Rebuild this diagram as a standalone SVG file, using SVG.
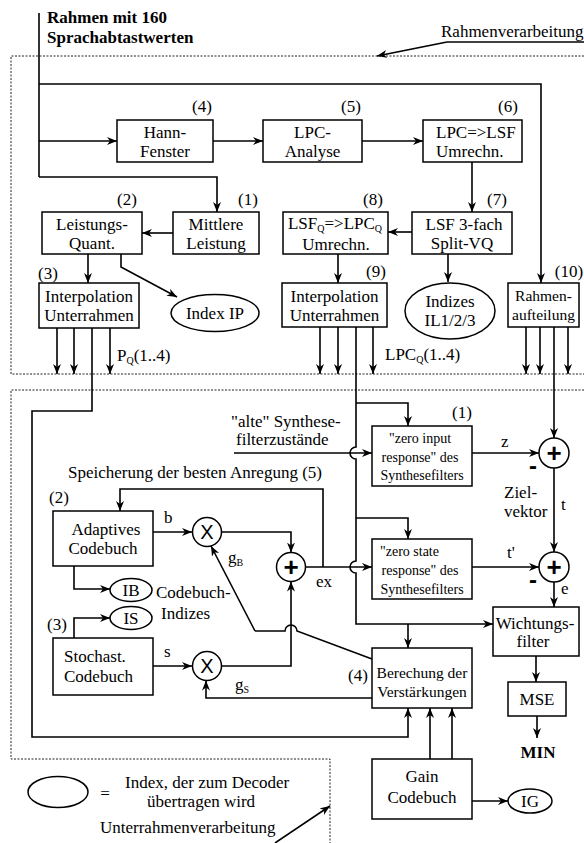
<svg xmlns="http://www.w3.org/2000/svg" width="584" height="843" viewBox="0 0 584 843">
<style>
text{font-family:"Liberation Serif","Times New Roman",serif;font-size:17px;fill:#000}
.m{text-anchor:middle}
.b{font-weight:bold;font-size:17px}
.s14{font-size:14px}
.s155{font-size:15.5px}
.sub{font-size:10px}
.box{fill:#fff;stroke:#000;stroke-width:1.5}
.ell{fill:#fff;stroke:#000;stroke-width:1.5}
.ln{fill:none;stroke:#000;stroke-width:1.6}
.ar{fill:none;stroke:#000;stroke-width:1.6;marker-end:url(#ah)}
.dot{fill:none;stroke:#222;stroke-width:1;stroke-dasharray:2 1.5}
.op{font-family:"Liberation Sans",Arial,sans-serif;font-weight:bold;text-anchor:middle}
</style>
<defs>
<marker id="ah" markerUnits="userSpaceOnUse" markerWidth="11" markerHeight="10" refX="10" refY="4.5" orient="auto">
<path d="M0,0.5 L10,4.5 L0,8.5 L3,4.5 z" fill="#000"/>
</marker>
</defs>

<g id="frames">
<path class="dot" d="M584,56 H11 V374 H584"/>
<path class="dot" d="M584,390 H11 V759 H330 V843"/>
</g>

<g id="titles">
<text class="b" x="47" y="23">Rahmen mit 160</text>
<text class="b" x="47" y="43">Sprachabtastwerten</text>
<text x="441" y="37">Rahmenverarbeitung</text>
<text x="100" y="833">Unterrahmenverarbeitung</text>
<text x="68" y="478">Speicherung der besten Anregung  (5)</text>
<text x="231" y="427">"alte" Synthese-</text>
<text x="236" y="445">filterzustände</text>
</g>

<g id="connectors">
<path class="ln" d="M447,42 H584"/>
<path class="ar" d="M447,42 L377,56"/>
<path class="ar" d="M275,843 L330,806"/>
<path class="ln" d="M39,13 V177"/>
<path class="ar" d="M39,84 H541 V283"/>
<path class="ar" d="M39,141 H117"/>
<path class="ar" d="M39,177 H217 V212"/>
<path class="ar" d="M213,141 H263"/>
<path class="ar" d="M362,141 H423"/>
<path class="ar" d="M472,162 V212"/>
<path class="ar" d="M173,233 H142"/>
<path class="ar" d="M88,254 V283"/>
<path class="ar" d="M121,254 V267 L177,297"/>
<path class="ar" d="M412,232 H388"/>
<path class="ar" d="M448,254 V282"/>
<path class="ar" d="M338,254 V283"/>
<path class="ar" d="M57,328 V374"/>
<path class="ar" d="M74,328 V374"/>
<path class="ar" d="M110,328 V374"/>
<path class="ar" d="M92,328 V411 H32 V737 H408 V708"/>
<path class="ar" d="M320,327 V374"/>
<path class="ar" d="M338,327 V374"/>
<path class="ar" d="M373,327 V374"/>
<path class="ar" d="M526,327 V374"/>
<path class="ar" d="M540,327 V374"/>
<path class="ar" d="M568,327 V374"/>
<path class="ar" d="M554,327 V438"/>
<path class="ar" d="M356,327 V447 A6,6 0 0 0 356,459 V561 A6,6 0 0 0 356,573 V624 H493"/>
<path class="ar" d="M356,403 H408 V426"/>
<path class="ar" d="M356,518 H408 V539"/>
<path class="ar" d="M408,624 V648"/>
<path class="ar" d="M234,453 H372"/>
<path class="ar" d="M472,453 H539"/>
<path class="ar" d="M554,468 V552"/>
<path class="ar" d="M472,567 H539"/>
<path class="ar" d="M554,582 V607"/>
<path class="ar" d="M536,656 V682"/>
<path class="ar" d="M537,716 V738"/>
<path class="ar" d="M306,567 H372"/>
<path class="ar" d="M323,567 V489 H120 V511"/>
<path class="ar" d="M153,532 H192"/>
<path class="ar" d="M221.5,532 H291 V552.5"/>
<path class="ar" d="M221.5,666 H291 V581.5"/>
<path class="ar" d="M153,666 H192"/>
<path class="ar" d="M372,698 H206 V680.5"/>
<path class="ar" d="M255,631 L211,546"/>
<path class="ln" d="M255,631 H285 A6,6 0 0 1 297,631 L372,659"/>
<path class="ar" d="M74,566 V589 H110"/>
<path class="ar" d="M74,638 V618 H110"/>
<path class="ar" d="M430,759 V708"/>
<path class="ar" d="M452,759 V708"/>
<path class="ar" d="M472,801 H508"/>
</g>

<g id="n-hann"><rect class="box" x="117" y="120" width="96" height="42"/><text class="m" x="165" y="138">Hann-</text><text class="m" x="165" y="157">Fenster</text><text class="m" x="202" y="112">(4)</text></g>
<g id="n-lpc"><rect class="box" x="263" y="120" width="99" height="42"/><text class="m" x="312.5" y="138">LPC-</text><text class="m" x="312.5" y="157">Analyse</text><text class="m" x="351" y="112">(5)</text></g>
<g id="n-lpc2lsf"><rect class="box" x="423" y="120" width="99" height="42"/><text x="436" y="138">LPC=&gt;LSF</text><text x="436" y="157">Umrechn.</text><text class="m" x="508" y="112">(6)</text></g>
<g id="n-mittlere"><rect class="box" x="173" y="212" width="86" height="42"/><text class="m" x="216" y="230">Mittlere</text><text class="m" x="216" y="249">Leistung</text><text class="m" x="248" y="205">(1)</text></g>
<g id="n-quant"><rect class="box" x="42" y="212" width="100" height="42"/><text class="m" x="92" y="230">Leistungs-</text><text class="m" x="92" y="249">Quant.</text><text class="m" x="127" y="205">(2)</text></g>
<g id="n-interp1"><rect class="box" x="39" y="283" width="100" height="45"/><text class="m" x="89" y="302">Interpolation</text><text class="m" x="89" y="321">Unterrahmen</text><text class="m" x="48" y="279">(3)</text><text x="117" y="361">P<tspan class="sub" dy="3">Q</tspan><tspan dy="-3">(1..4)</tspan></text></g>
<g id="n-indexip"><ellipse class="ell" cx="215" cy="313" rx="44" ry="18.5"/><text class="m" x="215" y="319">Index IP</text></g>
<g id="n-vq"><rect class="box" x="412" y="212" width="100" height="42"/><text class="m" x="464" y="230">LSF 3-fach</text><text class="m" x="462" y="249">Split-VQ</text><text class="m" x="497" y="205">(7)</text></g>
<g id="n-lsf2lpc"><rect class="box" x="283" y="212" width="105" height="42"/><text class="m" x="335" y="229">LSF<tspan class="sub" dy="3">Q</tspan><tspan dy="-3">=&gt;LPC</tspan><tspan class="sub" dy="3">Q</tspan></text><text class="m" x="336" y="250">Umrechn.</text><text class="m" x="373" y="205">(8)</text></g>
<g id="n-indizes"><ellipse class="ell" cx="450" cy="311" rx="45" ry="28"/><text class="m" x="450" y="307">Indizes</text><text class="m" x="450" y="326">IL1/2/3</text></g>
<g id="n-interp2"><rect class="box" x="282" y="283" width="105" height="44"/><text class="m" x="334.5" y="302">Interpolation</text><text class="m" x="334.5" y="321">Unterrahmen</text><text class="m" x="376" y="277">(9)</text><text x="385" y="360">LPC<tspan class="sub" dy="3">Q</tspan><tspan dy="-3">(1..4)</tspan></text></g>
<g id="n-rahmen"><rect class="box" x="508" y="283" width="71" height="44"/><text class="m s155" x="543.5" y="301">Rahmen-</text><text class="m s155" x="543.5" y="320">aufteilung</text><text class="m" x="569" y="277">(10)</text></g>

<g id="n-zir"><rect class="box" x="372" y="426" width="100" height="60"/><text class="m s14" x="420" y="443">"zero input</text><text class="m s14" x="420" y="462">response" des</text><text class="m s14" x="422" y="480">Synthesefilters</text><text class="m" x="462" y="418">(1)</text><text x="501" y="447">z</text></g>
<g id="n-sum2"><circle class="ell" cx="554" cy="453" r="15"/><text class="op" x="554" y="462" style="font-size:26px">+</text><text class="op" x="533" y="474" style="font-size:24px">-</text></g>
<g id="n-ziel"><text x="504" y="498">Ziel-</text><text x="504" y="517">vektor</text><text x="561" y="510">t</text></g>
<g id="n-zsr"><rect class="box" x="372" y="539" width="100" height="60"/><text class="s14" x="380" y="556">"zero state</text><text class="m s14" x="420" y="575">response" des</text><text class="m s14" x="422" y="594">Synthesefilters</text><text x="507" y="558">t'</text></g>
<g id="n-sum3"><circle class="ell" cx="554" cy="567" r="15"/><text class="op" x="554" y="576" style="font-size:26px">+</text><text class="op" x="533" y="588" style="font-size:24px">-</text><text x="561" y="594">e</text></g>
<g id="n-wicht"><rect class="box" x="493" y="607" width="86" height="49"/><text class="m" x="535" y="629">Wichtungs-</text><text class="m" x="533" y="647">filter</text></g>
<g id="n-mse"><rect class="box" x="508" y="682" width="58" height="34"/><text class="m" x="537" y="705">MSE</text><text class="m b" x="538" y="758">MIN</text></g>
<g id="n-berech"><rect class="box" x="372" y="648" width="100" height="60"/><text class="m s155" x="422" y="678">Berechung der</text><text class="m s155" x="422" y="697">Verstärkungen</text><text class="m" x="358" y="681">(4)</text></g>
<g id="n-gain"><rect class="box" x="372" y="759" width="100" height="60"/><text class="m" x="422" y="782">Gain</text><text class="m" x="422" y="803">Codebuch</text></g>
<g id="n-ig"><ellipse class="ell" cx="530" cy="801" rx="22" ry="12"/><text class="m" x="530" y="807">IG</text></g>

<g id="n-adapt"><rect class="box" x="53" y="511" width="100" height="55"/><text class="m" x="106" y="535">Adaptives</text><text class="m" x="103" y="554">Codebuch</text><text x="49" y="503">(2)</text><text x="164" y="523">b</text></g>
<g id="n-mul1"><circle class="ell" cx="207" cy="532" r="14.5"/><text class="op" x="207" y="539" style="font-size:20px;font-weight:normal">X</text><text x="228" y="563">g<tspan class="sub" dy="3">B</tspan></text></g>
<g id="n-sum1"><circle class="ell" cx="291" cy="567" r="14.5"/><text class="op" x="291" y="576" style="font-size:26px">+</text><text x="316" y="587">ex</text></g>
<g id="n-ib"><ellipse class="ell" cx="131" cy="590" rx="21" ry="11.5"/><text class="m" x="131" y="596">IB</text></g>
<g id="n-is"><ellipse class="ell" cx="131" cy="618" rx="21" ry="11.5"/><text class="m" x="131" y="624">IS</text></g>
<g id="n-cbidx"><text x="156" y="598">Codebuch-</text><text x="161" y="619">Indizes</text></g>
<g id="n-stoch"><rect class="box" x="53" y="638" width="100" height="57"/><text x="64" y="662">Stochast.</text><text x="64" y="682">Codebuch</text><text x="47" y="630">(3)</text><text x="164" y="657">s</text></g>
<g id="n-mul2"><circle class="ell" cx="207" cy="666" r="14.5"/><text class="op" x="207" y="673" style="font-size:20px;font-weight:normal">X</text><text x="235" y="690">g<tspan class="sub" dy="3">S</tspan></text></g>

<g id="legend"><ellipse class="ell" cx="58" cy="792" rx="30" ry="15.5"/><text class="m" x="105" y="799">=</text><text x="125" y="788">Index, der zum Decoder</text><text x="147" y="807">übertragen wird</text></g>
</svg>
